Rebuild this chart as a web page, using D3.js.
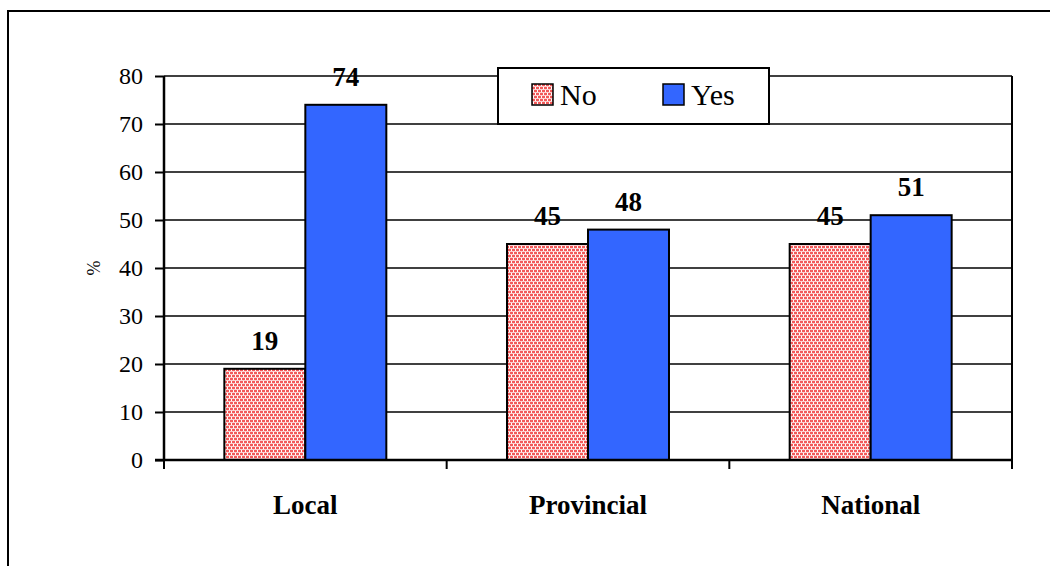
<!DOCTYPE html>
<html>
<head>
<meta charset="utf-8">
<script src="https://cdn.jsdelivr.net/npm/d3@7"></script>
</head>
<body>
<script>
// Share of respondents by level of government
const categories = ["Local", "Provincial", "National"];
const seriesNames = ["No", "Yes"];
const noValues = [19, 45, 45];
const yesValues = [74, 48, 51];
const yTicks = [0, 10, 20, 30, 40, 50, 60, 70, 80];

const W = 1050, H = 566;
const serif = "Liberation Serif";
d3.select("body").style("margin", "0px").style("overflow", "hidden");
const svg = d3.select("body").append("svg").attr("width", W).attr("height", H)
  .style("display", "block");

// place start-anchored text so that it is centred on / ends at its x
function alignText(node, mode) {
  const len = node.getComputedTextLength();
  const x = +node.getAttribute("x") || 0;
  node.setAttribute("x", mode === "middle" ? x - len / 2 : x - len);
}

// hatched fill for the "No" series
const defs = svg.append("defs");
const pat = defs.append("pattern")
  .attr("id", "noFill").attr("patternUnits", "userSpaceOnUse")
  .attr("width", 4).attr("height", 6);
pat.append("rect").attr("width", 4).attr("height", 6).attr("fill", "#f25a5a");
pat.append("rect").attr("x", 1).attr("y", 0).attr("width", 1).attr("height", 3).attr("fill", "#fff");
pat.append("rect").attr("x", 3).attr("y", 3).attr("width", 1).attr("height", 3).attr("fill", "#fff");
pat.append("rect").attr("x", 0).attr("y", 2).attr("width", 4).attr("height", 1).attr("fill", "#fbd0d0");
pat.append("rect").attr("x", 0).attr("y", 5).attr("width", 4).attr("height", 1).attr("fill", "#fbd0d0");

const fills = { No: "url(#noFill)", Yes: "#3366ff" };

// outer chart frame
svg.append("rect").attr("x", 8).attr("y", 11).attr("width", W).attr("height", H)
  .attr("fill", "none").attr("stroke", "#000").attr("stroke-width", 2);

const plot = { left: 164, right: 1012, top: 76, bottom: 460 };

const x0 = d3.scaleBand().domain(categories).range([plot.left, plot.right]).paddingInner(0).paddingOuter(0);
const x1 = d3.scaleBand().domain(seriesNames).range([0, x0.bandwidth()]).paddingInner(0).paddingOuter(0.745);
const y = d3.scaleLinear().domain([0, 80]).range([plot.bottom, plot.top]);

// gridlines
svg.append("g").selectAll("line").data(yTicks.filter(d => d > 0)).join("line")
  .attr("x1", plot.left).attr("x2", plot.right)
  .attr("y1", d => y(d)).attr("y2", d => y(d))
  .attr("stroke", "#000").attr("stroke-width", 1.5);
// right edge of plot area
svg.append("line").attr("x1", plot.right).attr("x2", plot.right)
  .attr("y1", plot.top).attr("y2", plot.bottom)
  .attr("stroke", "#000").attr("stroke-width", 2);

// bars
const bars = [];
categories.forEach((c, i) => {
  bars.push({ cat: c, key: "No", v: noValues[i] });
  bars.push({ cat: c, key: "Yes", v: yesValues[i] });
});
svg.append("g").selectAll("rect").data(bars).join("rect")
  .attr("x", d => x0(d.cat) + x1(d.key)).attr("width", x1.bandwidth())
  .attr("y", d => y(d.v)).attr("height", d => y(0) - y(d.v))
  .attr("fill", d => fills[d.key]).attr("stroke", "#000").attr("stroke-width", 2);

// value labels
bars.forEach(d => {
  const t = svg.append("text")
    .attr("x", x0(d.cat) + x1(d.key) + x1.bandwidth() / 2)
    .attr("y", y(d.v) - 19)
    .style("font-family", serif)
    .attr("font-weight", "bold").attr("font-size", 27)
    .text(d.v);
  alignText(t.node(), "middle");
});

// y axis line and ticks
const yAxis = svg.append("g").attr("transform", `translate(${plot.left},0)`)
  .call(d3.axisLeft(y).tickValues(yTicks).tickSize(9).tickFormat(""));
yAxis.select(".domain").attr("stroke-width", 2.5).attr("d", `M0,${plot.top}V${plot.bottom}`);
yAxis.selectAll(".tick line").attr("stroke-width", 2);
yAxis.selectAll(".tick text").remove();
yTicks.forEach(v => {
  const t = svg.append("text")
    .attr("x", plot.left - 21).attr("y", y(v) + 8)
    .style("font-family", serif)
    .attr("font-size", 24)
    .text(v);
  alignText(t.node(), "end");
});

// x axis with ticks between categories
const xAxisG = svg.append("g").attr("transform", `translate(0,${plot.bottom})`);
xAxisG.append("line").attr("x1", plot.left - 9).attr("x2", plot.right)
  .attr("y1", 0).attr("y2", 0).attr("stroke", "#000").attr("stroke-width", 2.5);
const boundaries = categories.map(c => x0(c)).concat([x0(categories[categories.length - 1]) + x0.bandwidth()]);
xAxisG.selectAll("line.tk").data(boundaries).join("line").attr("class", "tk")
  .attr("x1", d => d).attr("x2", d => d).attr("y1", 0).attr("y2", 9)
  .attr("stroke", "#000").attr("stroke-width", 2);
categories.forEach(c => {
  const t = svg.append("text")
    .attr("x", x0(c) + x0.bandwidth() / 2).attr("y", plot.bottom + 54)
    .style("font-family", serif)
    .attr("font-weight", "bold").attr("font-size", 27)
    .text(c);
  alignText(t.node(), "middle");
});

// y axis title
const yTitle = svg.append("text")
  .attr("transform", `translate(100,${(plot.top + plot.bottom) / 2}) rotate(-90)`)
  .attr("x", 0)
  .style("font-family", serif)
  .attr("font-size", 18)
  .text("%");
alignText(yTitle.node(), "middle");

// legend
const legend = svg.append("g").attr("transform", "translate(498,68)");
legend.append("rect").attr("width", 271).attr("height", 56)
  .attr("fill", "#fff").attr("stroke", "#000").attr("stroke-width", 2);
const legendItems = legend.selectAll("g").data(seriesNames).join("g")
  .attr("transform", (d, i) => `translate(${34 + i * 131},16)`);
legendItems.append("rect").attr("width", 21).attr("height", 21)
  .attr("fill", d => fills[d]).attr("stroke", "#000").attr("stroke-width", 1.5);
legendItems.append("text").attr("x", 28).attr("y", 21)
  .style("font-family", serif)
  .attr("font-size", 30)
  .text(d => d);
</script>
</body>
</html>
